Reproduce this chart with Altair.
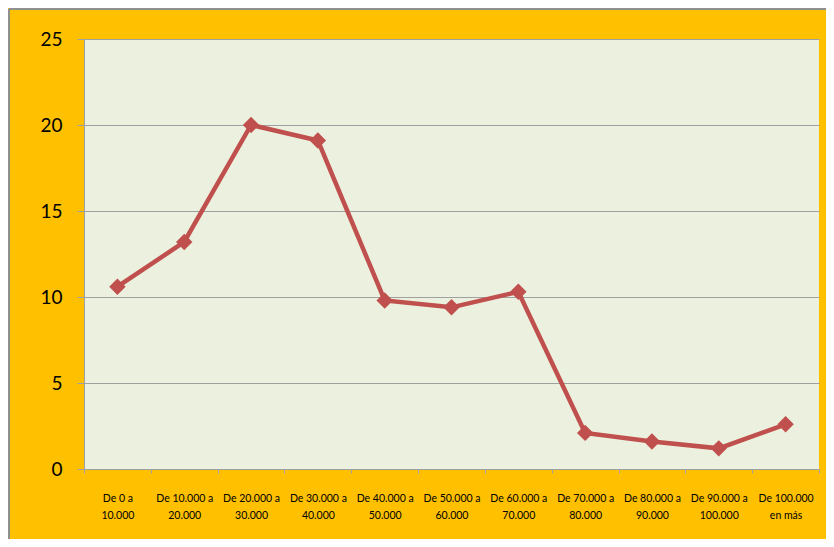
import altair as alt
import pandas as pd

categories = [
    "De 0 a\n10.000", "De 10.000 a\n20.000", "De 20.000 a\n30.000",
    "De 30.000 a\n40.000", "De 40.000 a\n50.000", "De 50.000 a\n60.000",
    "De 60.000 a\n70.000", "De 70.000 a\n80.000", "De 80.000 a\n90.000",
    "De 90.000 a\n100.000", "De 100.000\nen más",
]
values = [10.6, 13.2, 20.0, 19.1, 9.8, 9.4, 10.3, 2.1, 1.6, 1.2, 2.6]
y_ticks = [0, 5, 10, 15, 20, 25]

df = pd.DataFrame({"cat": categories, "val": values})

W, H = 735, 430
LINE = "#C0504D"
GRID = "#A0A0A0"

x = alt.X(
    "cat:N", sort=categories,
    scale=alt.Scale(paddingInner=0, paddingOuter=0),
    axis=alt.Axis(
        title=None, labelAngle=0, tickBand="extent", tickSize=4,
        tickColor=GRID, domainColor=GRID, labelPadding=20,
        labelFont="Lato", labelFontSize=10.5, labelFontWeight="normal",
        labelColor="#000000", labelLineHeight=17,
        labelExpr="split(datum.label, '\\n')", labelBaseline="top",
        grid=False, labelLimit=0,
    ),
)
y = alt.Y(
    "val:Q",
    scale=alt.Scale(domain=[0, 25], nice=False),
    axis=alt.Axis(
        title=None, values=y_ticks, tickSize=7, tickColor=GRID,
        domainColor=GRID, gridColor=GRID, gridWidth=1, labelPadding=15,
        labelFont="Lato", labelFontSize=19, labelColor="#000000",
    ),
)

base = alt.Chart(df)
line = base.mark_line(color=LINE, strokeWidth=4.5).encode(x=x, y=y)
pts = base.mark_point(shape="diamond", filled=True, size=270, color=LINE,
                      opacity=1).encode(x=x, y=y)

border_left = alt.Chart(df).mark_rule(color="#8F8F8F", strokeWidth=2).encode(
    x=alt.value(-75), y=alt.value(-30), y2=alt.value(H + 80))
border_top = alt.Chart(df).mark_rule(color="#8F8F8F", strokeWidth=2).encode(
    x=alt.value(-75), x2=alt.value(W + 20), y=alt.value(-30))

chart = alt.layer(line, pts, border_left, border_top).properties(
    width=W, height=H,
    background="#FFC000",
    padding={"left": 76, "top": 31, "right": 7, "bottom": 70},
    autosize=alt.AutoSizeParams(type="none"),
).configure_view(
    fill="#EBF1DE", strokeWidth=0,
)

chart.save("out.html", embed_options={"renderer": "svg", "actions": False})
